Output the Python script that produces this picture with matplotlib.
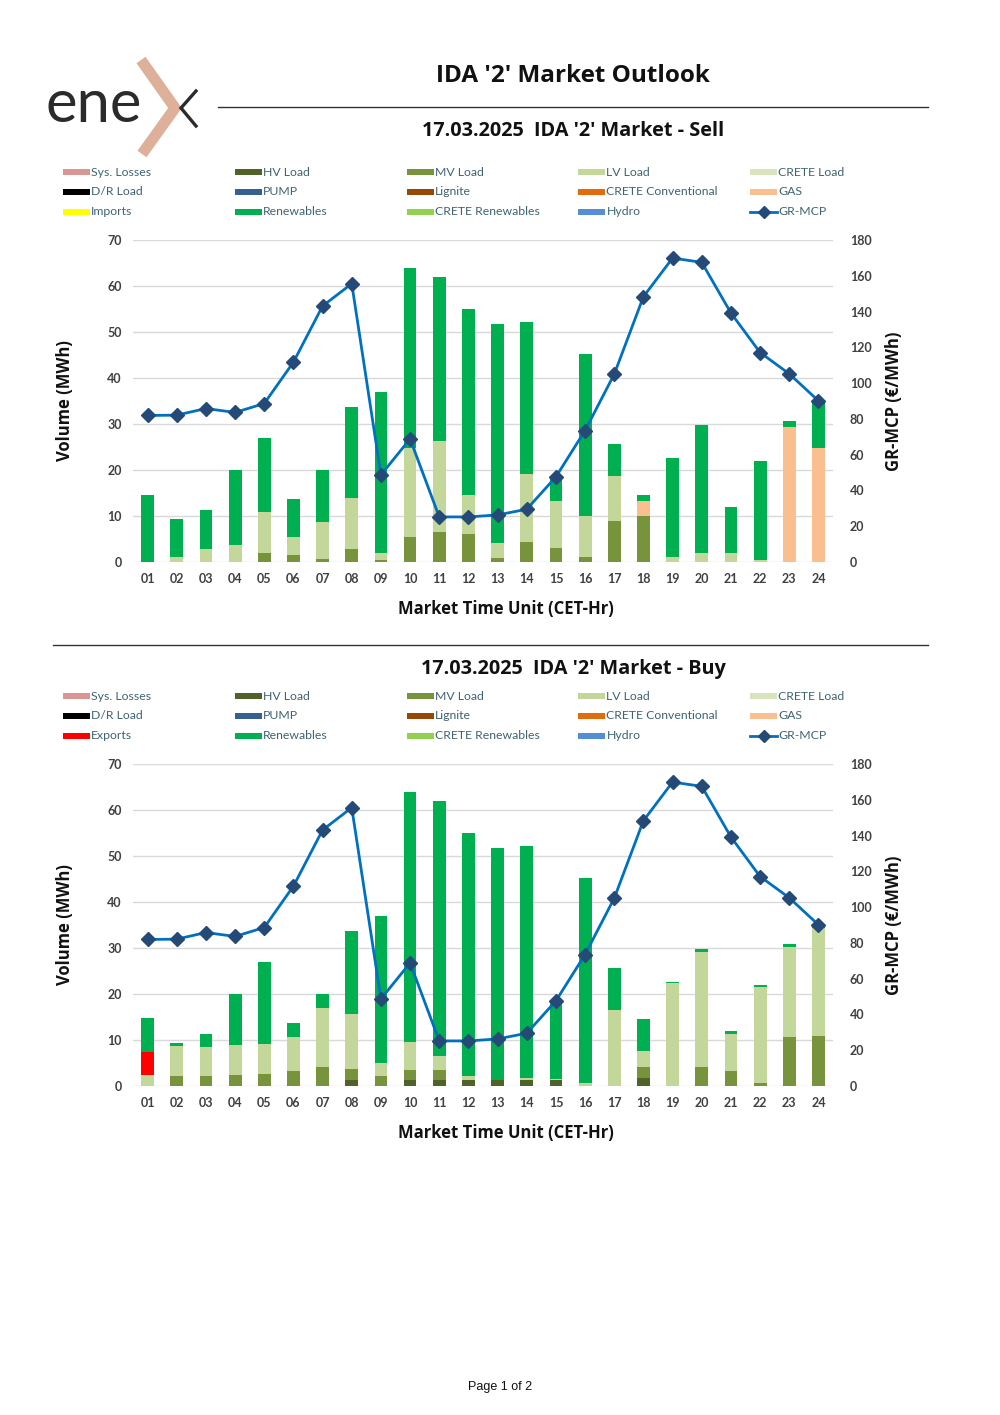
import matplotlib.pyplot as plt
import numpy as np
from matplotlib.patches import Rectangle

plt.rcParams['font.family'] = ['Lato', 'DejaVu Sans']
BOLD_FAM = ['Open Sans', 'DejaVu Sans']

# ---- data ----
hours = ['%02d' % h for h in range(1, 25)]

mcp = [81.9, 82.1, 85.8, 83.6, 88.6, 111.7, 143.1, 155.6, 48.7, 68.8, 25.2, 25.2,
       26.3, 29.5, 47.6, 73.5, 105.0, 148.3, 169.9, 167.5, 139.2, 117.1, 105.2, 90.1]

# Sell side (MWh, stacked segments)
sell_mv = [0, 0, 0, 0, 2.0, 1.45, 0.7, 2.75, 0.4, 5.4, 6.45, 6.1,
           0.9, 4.35, 3.05, 1.1, 8.85, 9.9, 0, 0, 0, 0, 0, 0]
sell_lv = [0, 1.0, 2.9, 3.6, 8.9, 4.05, 7.9, 11.1, 1.6, 19.4, 19.75, 8.4,
           3.2, 14.85, 10.25, 9.0, 9.75, 0, 1.1, 1.9, 1.9, 0.45, 0, 0]
sell_gas = [0, 0, 0, 0, 0, 0, 0, 0, 0, 0, 0, 0,
            0, 0, 0, 0, 0, 3.4, 0, 0, 0, 0, 29.3, 24.7]
sell_ren = [14.6, 8.4, 8.5, 16.3, 16.1, 8.2, 11.3, 19.85, 35.0, 39.2, 35.8, 40.4,
            47.7, 32.9, 5.3, 35.2, 7.1, 1.3, 21.5, 27.8, 10.1, 21.55, 1.4, 10.5]

# Buy side (MWh, stacked segments)
buy_hv = [0, 0, 0, 0, 0, 0, 0, 1.4, 0, 1.4, 1.4, 1.4,
          1.4, 1.4, 1.4, 0, 0, 1.7, 0, 0, 0, 0, 0, 0]
buy_mv = [0, 2.25, 2.25, 2.4, 2.6, 3.25, 4.1, 2.3, 2.1, 2.15, 2.15, 0,
          0, 0, 0, 0, 0, 2.5, 0, 4.1, 3.3, 0.7, 10.7, 10.8]
buy_lv = [2.4, 6.45, 6.25, 6.45, 6.6, 7.45, 12.9, 12.0, 2.8, 5.95, 2.95, 0.8,
          0, 0.35, 0.2, 0.6, 16.5, 3.4, 22.5, 25.0, 8.1, 20.8, 19.5, 23.5]
buy_exp = [5.1, 0, 0, 0, 0, 0, 0, 0, 0, 0, 0, 0,
           0, 0, 0, 0, 0, 0, 0, 0, 0, 0, 0, 0]
buy_ren = [7.2, 0.7, 2.8, 11.05, 17.8, 3.0, 2.9, 18.0, 32.1, 54.5, 55.5, 52.7,
           50.4, 50.35, 17.0, 44.7, 9.2, 7.0, 0.2, 0.6, 0.5, 0.5, 0.6, 0.9]

legend_labels = ['Sys. Losses', 'HV Load', 'MV Load', 'LV Load', 'CRETE Load',
                 'D/R Load', 'PUMP', 'Lignite', 'CRETE Conventional', 'GAS',
                 'Imports', 'Renewables', 'CRETE Renewables', 'Hydro', 'GR-MCP']
legend_colors = ['#da9694', '#4f6228', '#77933c', '#c4d79b', '#d8e4bc',
                 '#000000', '#366092', '#974706', '#e26b0a', '#fabf8f',
                 '#ffff00', '#00b050', '#92d050', '#558ed5', None]

C = dict(zip(legend_labels, legend_colors))
C['Exports'] = '#ff0000'
LINE_C = '#0070c0'
MARK_C = '#264a78'
TXT = '#404040'
LEG_TXT = '#3f6373'

W, H = 1000, 1415
fig = plt.figure(figsize=(W / 100, H / 100), dpi=100)

# overlay in pixel coordinates for header / legend / decorations
ov = fig.add_axes([0, 0, 1, 1], zorder=-1)
ov.set_xlim(0, W)
ov.set_ylim(H, 0)
ov.axis('off')

# logo
ov.text(45, 105, 'ene', fontsize=43, color='#2b2b2b', va='center', ha='left')
ov.plot([141, 175, 142], [60, 108, 154], color='#deb09a', lw=8,
        solid_joinstyle='miter', solid_capstyle='butt')
ov.plot([196, 181, 196], [91, 108, 126], color='#2b2b2b', lw=2.4,
        solid_joinstyle='miter')

ov.text(573, 76, "IDA '2' Market Outlook", fontsize=17.5, fontweight='bold',
        family=BOLD_FAM, ha='center', va='center', color='#111111')
ov.plot([218, 928], [107, 107], color='#333333', lw=1)
ov.plot([53, 928], [645, 645], color='#333333', lw=1)
ov.text(500, 1387, 'Page 1 of 2', fontsize=9, ha='center', va='center',
        family=['Liberation Sans', 'DejaVu Sans'], color='#111111')


def draw_legend(y0, third_row_first):
    labels = list(legend_labels)
    colors = list(legend_colors)
    labels[10] = third_row_first
    colors[10] = C[third_row_first]
    for i, (lab, col) in enumerate(zip(labels, colors)):
        r, c = divmod(i, 5)
        x = 63 + c * 171.8
        y = y0 + r * 19.8
        if col is None:
            ov.plot([x, x + 27], [y, y], color=LINE_C, lw=2)
            ov.plot([x + 13.5], [y], marker='D', ms=6, color=MARK_C)
        else:
            ov.add_patch(Rectangle((x, y - 3), 27, 6, color=col, lw=0))
        ov.text(x + 28, y, lab, fontsize=8.8, color=LEG_TXT, va='center', ha='left')


def draw_chart(top_px, title_px, title, segs, third):
    ov.text(573, title_px, title, fontsize=14.3, fontweight='bold', family=BOLD_FAM,
            ha='center', va='center', color='#111111')
    draw_legend(top_px - 68, third)

    ax = fig.add_axes([0.133, 1 - (top_px + 322) / H, 0.70, 322 / H])
    ax.set_facecolor('none')
    x = np.arange(24)
    bottom = np.zeros(24)
    for name, vals in segs:
        v = np.array(vals, dtype=float)
        ax.bar(x, v, bottom=bottom, width=0.44, color=C[name], zorder=3)
        bottom += v
    ax.set_xlim(-0.5, 23.5)
    ax.set_ylim(0, 70)
    ax.set_yticks(range(0, 71, 10))
    ax.set_xticks(x)
    ax.set_xticklabels(hours)
    ax.grid(axis='y', color='#d9d9d9', lw=1, zorder=0)
    for s in ax.spines.values():
        s.set_visible(False)
    ax.tick_params(length=0, labelsize=9, labelcolor=TXT, pad=8)
    for t in ax.get_xticklabels() + ax.get_yticklabels():
        t.set_fontweight('bold')
    ax.set_ylabel('Volume (MWh)', fontsize=12, fontweight='bold', family=BOLD_FAM,
                  color='#111111', labelpad=24)
    ax.set_xlabel('Market Time Unit (CET-Hr)', fontsize=12, fontweight='bold',
                  family=BOLD_FAM, color='#111111')
    ax.xaxis.set_label_coords(0.533, -0.117)

    ax2 = ax.twinx()
    ax2.plot(x, mcp, color=LINE_C, lw=2, marker='D', ms=7.5,
             markerfacecolor=MARK_C, markeredgecolor=MARK_C, zorder=5)
    ax2.set_ylim(0, 180)
    ax2.set_yticks(range(0, 181, 20))
    for s in ax2.spines.values():
        s.set_visible(False)
    ax2.tick_params(length=0, labelsize=9, labelcolor=TXT, pad=12)
    for t in ax2.get_yticklabels():
        t.set_fontweight('bold')
    ax2.set_ylabel('GR-MCP (€/MWh)', fontsize=12, fontweight='bold', family=BOLD_FAM,
                   color='#111111', labelpad=10)
    return ax


draw_chart(240, 131, "17.03.2025  IDA '2' Market - Sell",
           [('MV Load', sell_mv), ('LV Load', sell_lv), ('GAS', sell_gas),
            ('Renewables', sell_ren)], 'Imports')
draw_chart(764, 669, "17.03.2025  IDA '2' Market - Buy",
           [('HV Load', buy_hv), ('MV Load', buy_mv), ('LV Load', buy_lv),
            ('Exports', buy_exp), ('Renewables', buy_ren)], 'Exports')

fig.savefig('out.png', dpi=100)
